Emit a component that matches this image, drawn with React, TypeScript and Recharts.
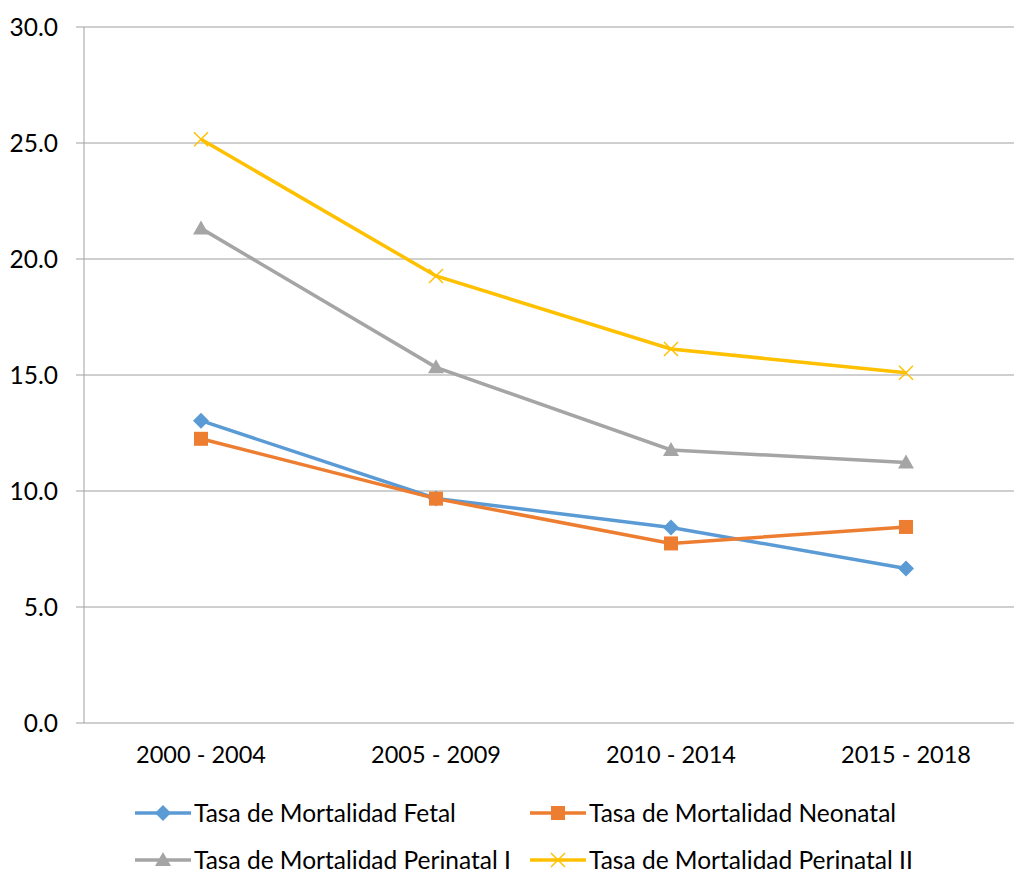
import { LineChart, Line, XAxis, YAxis, CartesianGrid, Legend } from "recharts";

const periods = ["2000 - 2004", "2005 - 2009", "2010 - 2014", "2015 - 2018"];
const fetal = [13.03, 9.68, 8.43, 6.66];
const neonatal = [12.25, 9.67, 7.74, 8.45];
const perinatalI = [21.32, 15.33, 11.77, 11.23];
const perinatalII = [25.16, 19.27, 16.12, 15.1];
const yTicks = [0, 5, 10, 15, 20, 25, 30];
const frameTicks = [0, 1, 2, 3, 4];

const series = [
  { key: "fetal", name: "Tasa de Mortalidad Fetal", color: "#5B9BD5", shape: "diamond" },
  { key: "neonatal", name: "Tasa de Mortalidad Neonatal", color: "#ED7D31", shape: "square" },
  { key: "perI", name: "Tasa de Mortalidad Perinatal I", color: "#A5A5A5", shape: "triangle" },
  { key: "perII", name: "Tasa de Mortalidad Perinatal II", color: "#FFC000", shape: "x" },
];

const data = periods.map((period, i) => ({
  period,
  fetal: fetal[i],
  neonatal: neonatal[i],
  perI: perinatalI[i],
  perII: perinatalII[i],
}));

function Marker({ shape, cx, cy, color }: { shape: string; cx: number; cy: number; color: string }) {
  if (shape === "diamond")
    return <polygon points={`${cx},${cy - 8} ${cx + 8},${cy} ${cx},${cy + 8} ${cx - 8},${cy}`} fill={color} />;
  if (shape === "square") return <rect x={cx - 7} y={cy - 7} width={14} height={14} fill={color} />;
  if (shape === "triangle")
    return <polygon points={`${cx},${cy - 8} ${cx + 8},${cy + 6} ${cx - 8},${cy + 6}`} fill={color} />;
  return (
    <g stroke={color} strokeWidth={1.5}>
      <line x1={cx - 7} y1={cy - 7} x2={cx + 7} y2={cy + 7} />
      <line x1={cx - 7} y1={cy + 7} x2={cx + 7} y2={cy - 7} />
    </g>
  );
}

// two rows of two, like the Excel legend
function LegendBox() {
  return (
    <div style={{ position: "relative", width: 1014, height: 91 }}>
      {series.map((s, i) => {
        const left = i % 2 === 0 ? 135 : 530;
        const top = i < 2 ? 17 : 64;
        return (
          <div key={s.key} style={{ position: "absolute", left, top, height: 26, display: "flex", alignItems: "center" }}>
            <svg width={56} height={26}>
              <line x1={0} y1={13} x2={56} y2={13} stroke={s.color} strokeWidth={3.5} />
              <Marker shape={s.shape} cx={28} cy={13} color={s.color} />
            </svg>
            <span style={{ marginLeft: 3, fontSize: 24.5, lineHeight: "26px", color: "#000", whiteSpace: "nowrap" }}>{s.name}</span>
          </div>
        );
      })}
    </div>
  );
}

export default function App() {
  return (
    <div style={{ width: 1014, height: 874, overflow: "hidden", fontFamily: "Lato, sans-serif", background: "#fff" }}>
      <style>{`body{margin:0}`}</style>
      <LineChart width={1023} height={874} data={data} margin={{ top: 27, right: 0, left: 0, bottom: 0 }}>
        <XAxis
          xAxisId="frame"
          type="number"
          domain={[0, 4]}
          ticks={frameTicks}
          tick={false}
          tickSize={8}
          height={0}
          stroke="#A0A0A0"
        />
        <XAxis
          xAxisId="cat"
          dataKey="period"
          padding={{ left: 117, right: 117 }}
          axisLine={false}
          tickLine={false}
          tickSize={0}
          tickMargin={23}
          height={60}
          tick={{ fill: "#000", fontSize: 23.5 }}
          interval={0}
        />
        <YAxis
          domain={[0, 30]}
          ticks={yTicks}
          width={84}
          tickSize={8}
          tickMargin={18}
          stroke="#A0A0A0"
          tick={{ fill: "#000", fontSize: 24.5 }}
          tickFormatter={(v: number) => v.toFixed(1)}
        />
        <CartesianGrid xAxisId="cat" vertical={false} stroke="#A0A0A0" />
        <Legend verticalAlign="bottom" content={() => <LegendBox />} />
        {series.map((s) => (
          <Line
            key={s.key}
            xAxisId="cat"
            dataKey={s.key}
            name={s.name}
            stroke={s.color}
            strokeWidth={3.5}
            isAnimationActive={false}
            dot={(p: any) => <Marker key={`${s.key}-${p.index}`} shape={s.shape} cx={p.cx} cy={p.cy} color={s.color} />}
            activeDot={false}
          />
        ))}
      </LineChart>
    </div>
  );
}
